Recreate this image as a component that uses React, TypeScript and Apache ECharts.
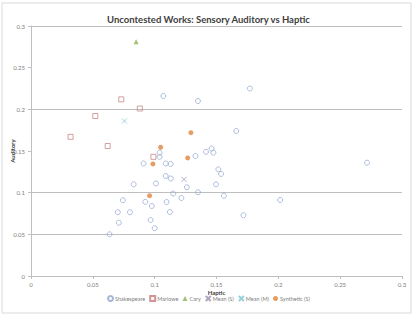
import React, { useEffect, useRef } from "react";
import * as echarts from "echarts";

const titleText = "Uncontested Works: Sensory Auditory vs Haptic";
const xName = "Haptic";
const yName = "Auditory";
const gridValues = [0.05, 0.1, 0.2, 0.3];

// [haptic, auditory]
const shakespeare = [
  [0.107, 0.216], [0.135, 0.210], [0.177, 0.225], [0.166, 0.174],
  [0.104, 0.148], [0.104, 0.143], [0.133, 0.144], [0.1415, 0.149],
  [0.146, 0.153], [0.1475, 0.148], [0.091, 0.135], [0.109, 0.135],
  [0.113, 0.1345], [0.1515, 0.128], [0.1537, 0.1225], [0.109, 0.120],
  [0.113, 0.117], [0.083, 0.110], [0.101, 0.111], [0.126, 0.1065],
  [0.1496, 0.110], [0.115, 0.099], [0.135, 0.1005], [0.156, 0.0964],
  [0.1216, 0.0936], [0.0924, 0.089], [0.1096, 0.0888], [0.0977, 0.084],
  [0.080, 0.0765], [0.1123, 0.0768], [0.1718, 0.0729], [0.0967, 0.0672],
  [0.100, 0.0573], [0.2015, 0.0912], [0.2717, 0.136], [0.0743, 0.0909],
  [0.0702, 0.0765], [0.071, 0.064], [0.0635, 0.050],
];
const marlowe = [
  [0.073, 0.212], [0.052, 0.192], [0.032, 0.167], [0.062, 0.156],
  [0.088, 0.201], [0.099, 0.143],
];
const cary = [[0.085, 0.281]];
const meanS = [[0.1237, 0.116]];
const meanM = [[0.0756, 0.186]];
const synthetic = [
  [0.1293, 0.172], [0.1048, 0.1545], [0.1267, 0.1417], [0.0986, 0.1345],
  [0.0959, 0.0964],
];

const X_PATH = "path://M0,0L10,10M10,0L0,10";
const CLEAR = "rgba(255,255,255,0)";

export default function App() {
  const ref = useRef<HTMLDivElement>(null);
  useEffect(() => {
    if (!ref.current) return;
    const chart = echarts.init(ref.current, null, { renderer: "svg" });
    const font = "Lato, 'Liberation Sans', sans-serif";
    const axisCommon = {
      type: "value",
      min: 0,
      max: 0.3,
      interval: 0.05,
      nameMoveOverlap: false,
      axisLine: { show: true, lineStyle: { color: "#BFBFBF", width: 1 } },
      axisTick: { show: true, length: 3, lineStyle: { color: "#BFBFBF" } },
      splitLine: { show: false },
      axisLabel: { fontSize: 6, color: "#808080", fontFamily: font },
      nameTextStyle: { fontSize: 6, fontWeight: "bold", color: "#404040", fontFamily: font },
    };
    chart.setOption({
      animation: false,
      backgroundColor: "#fff",
      title: {
        text: titleText,
        left: "center",
        top: 9,
        textStyle: { fontSize: 9.5, fontWeight: "bold", color: "#404040", fontFamily: font },
      },
      graphic: [
        {
          type: "rect",
          shape: { x: 2, y: 3, width: 409, height: 310 },
          style: { fill: "none", stroke: "#D9D9D9", lineWidth: 1 },
          z: -1,
        },
      ],
      grid: { left: 31, right: 15, top: 26, bottom: 43, containLabel: false, outerBoundsMode: "none" },
      xAxis: {
        ...axisCommon,
        name: xName,
        nameLocation: "middle",
        nameGap: 13,
        axisLabel: { ...axisCommon.axisLabel, margin: 5 },
      },
      yAxis: {
        ...axisCommon,
        name: yName,
        nameLocation: "middle",
        nameGap: 16,
        axisLabel: { ...axisCommon.axisLabel, margin: 6 },
      },
      legend: {
        top: 295,
        left: "center",
        itemWidth: 5,
        itemHeight: 5,
        itemGap: 4,
        padding: 0,
        textStyle: { fontSize: 5.5, color: "#808080", fontFamily: font, padding: [0, 0, 0, -3] },
        data: ["Shakespeare", "Marlowe", "Cary", "Mean (S)", "Mean (M)", "Synthetic (S)"],
      },
      series: [
        {
          name: "Shakespeare",
          type: "scatter",
          data: shakespeare,
          symbol: "circle",
          symbolSize: 5,
          itemStyle: { color: CLEAR, borderColor: "#8FA5CE", borderWidth: 0.9 },
          markLine: {
            silent: true,
            symbol: "none",
            label: { show: false },
            lineStyle: { color: "#BFBFBF", type: "solid", width: 1 },
            data: gridValues.map((v) => ({ yAxis: v })),
            z: 1,
          },
        },
        {
          name: "Marlowe",
          type: "scatter",
          data: marlowe,
          symbol: "rect",
          symbolSize: 5,
          itemStyle: { color: CLEAR, borderColor: "#C47A7C", borderWidth: 0.9 },
        },
        {
          name: "Cary",
          type: "scatter",
          data: cary,
          symbol: "triangle",
          symbolSize: 5,
          itemStyle: { color: "#8FAE50" },
        },
        {
          name: "Mean (S)",
          type: "scatter",
          data: meanS,
          symbol: X_PATH,
          symbolSize: 5,
          itemStyle: { color: CLEAR, borderColor: "#9A8FB2", borderWidth: 0.9 },
        },
        {
          name: "Mean (M)",
          type: "scatter",
          data: meanM,
          symbol: X_PATH,
          symbolSize: 5,
          itemStyle: { color: CLEAR, borderColor: "#7CC4D4", borderWidth: 0.9 },
        },
        {
          name: "Synthetic (S)",
          type: "scatter",
          data: synthetic,
          symbol: "circle",
          symbolSize: 5,
          itemStyle: { color: "#E0843C" },
        },
      ],
    });
    return () => chart.dispose();
  }, []);
  return (
    <div
      ref={ref}
      style={{ position: "fixed", left: 0, top: 0, width: 417, height: 319 }}
    />
  );
}
